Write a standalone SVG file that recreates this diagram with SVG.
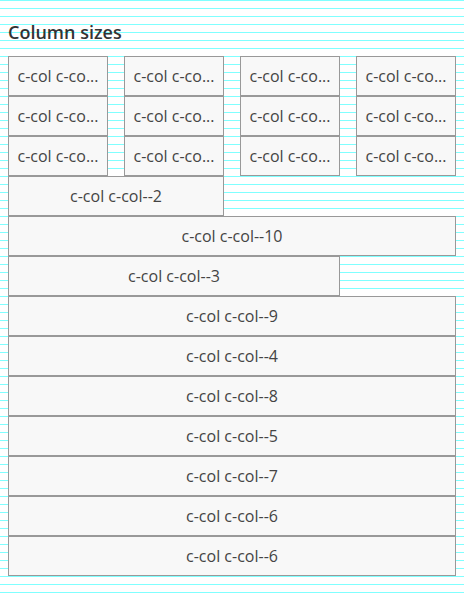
<svg xmlns="http://www.w3.org/2000/svg" width="464" height="600" viewBox="0 0 464 600">
<defs>
<pattern id="bg" x="0" y="0" width="8" height="8" patternUnits="userSpaceOnUse">
<rect x="0" y="0" width="8" height="1" fill="#80ffff"/>
</pattern>
<style>
.b rect{fill:#f8f8f8;stroke:#999;stroke-width:1}
.b text{font-family:"Open Sans",sans-serif;font-size:16px;fill:#444}
.c{text-anchor:middle}
.t{font-family:"Open Sans",sans-serif;font-size:18px;font-weight:600;fill:#333}
</style>
</defs>
<rect width="464" height="600" fill="#fff"/>
<rect width="464" height="600" fill="url(#bg)"/>
<text class="t" x="8" y="38.5">Column sizes</text>
<g id="r1c1" class="b"><rect x="8.5" y="56.5" width="99" height="39"/><text x="17.5" y="81.5">c-col c-co...</text></g>
<g id="r1c2" class="b"><rect x="124.5" y="56.5" width="99" height="39"/><text x="133.5" y="81.5">c-col c-co...</text></g>
<g id="r1c3" class="b"><rect x="240.5" y="56.5" width="99" height="39"/><text x="249.5" y="81.5">c-col c-co...</text></g>
<g id="r1c4" class="b"><rect x="356.5" y="56.5" width="99" height="39"/><text x="365.5" y="81.5">c-col c-co...</text></g>
<g id="r2c1" class="b"><rect x="8.5" y="96.5" width="99" height="39"/><text x="17.5" y="121.5">c-col c-co...</text></g>
<g id="r2c2" class="b"><rect x="124.5" y="96.5" width="99" height="39"/><text x="133.5" y="121.5">c-col c-co...</text></g>
<g id="r2c3" class="b"><rect x="240.5" y="96.5" width="99" height="39"/><text x="249.5" y="121.5">c-col c-co...</text></g>
<g id="r2c4" class="b"><rect x="356.5" y="96.5" width="99" height="39"/><text x="365.5" y="121.5">c-col c-co...</text></g>
<g id="r3c1" class="b"><rect x="8.5" y="136.5" width="99" height="39"/><text x="17.5" y="161.5">c-col c-co...</text></g>
<g id="r3c2" class="b"><rect x="124.5" y="136.5" width="99" height="39"/><text x="133.5" y="161.5">c-col c-co...</text></g>
<g id="r3c3" class="b"><rect x="240.5" y="136.5" width="99" height="39"/><text x="249.5" y="161.5">c-col c-co...</text></g>
<g id="r3c4" class="b"><rect x="356.5" y="136.5" width="99" height="39"/><text x="365.5" y="161.5">c-col c-co...</text></g>
<g id="col2" class="b"><rect x="8.5" y="176.5" width="215" height="39"/><text class="c" x="116" y="201.5">c-col c-col--2</text></g>
<g id="col10" class="b"><rect x="8.5" y="216.5" width="447" height="39"/><text class="c" x="232" y="241.5">c-col c-col--10</text></g>
<g id="col3" class="b"><rect x="8.5" y="256.5" width="331" height="39"/><text class="c" x="174" y="281.5">c-col c-col--3</text></g>
<g id="col9" class="b"><rect x="8.5" y="296.5" width="447" height="39"/><text class="c" x="232" y="321.5">c-col c-col--9</text></g>
<g id="col4" class="b"><rect x="8.5" y="336.5" width="447" height="39"/><text class="c" x="232" y="361.5">c-col c-col--4</text></g>
<g id="col8" class="b"><rect x="8.5" y="376.5" width="447" height="39"/><text class="c" x="232" y="401.5">c-col c-col--8</text></g>
<g id="col5" class="b"><rect x="8.5" y="416.5" width="447" height="39"/><text class="c" x="232" y="441.5">c-col c-col--5</text></g>
<g id="col7" class="b"><rect x="8.5" y="456.5" width="447" height="39"/><text class="c" x="232" y="481.5">c-col c-col--7</text></g>
<g id="col6a" class="b"><rect x="8.5" y="496.5" width="447" height="39"/><text class="c" x="232" y="521.5">c-col c-col--6</text></g>
<g id="col6b" class="b"><rect x="8.5" y="536.5" width="447" height="39"/><text class="c" x="232" y="561.5">c-col c-col--6</text></g>
<g id="connectors"/>
</svg>
